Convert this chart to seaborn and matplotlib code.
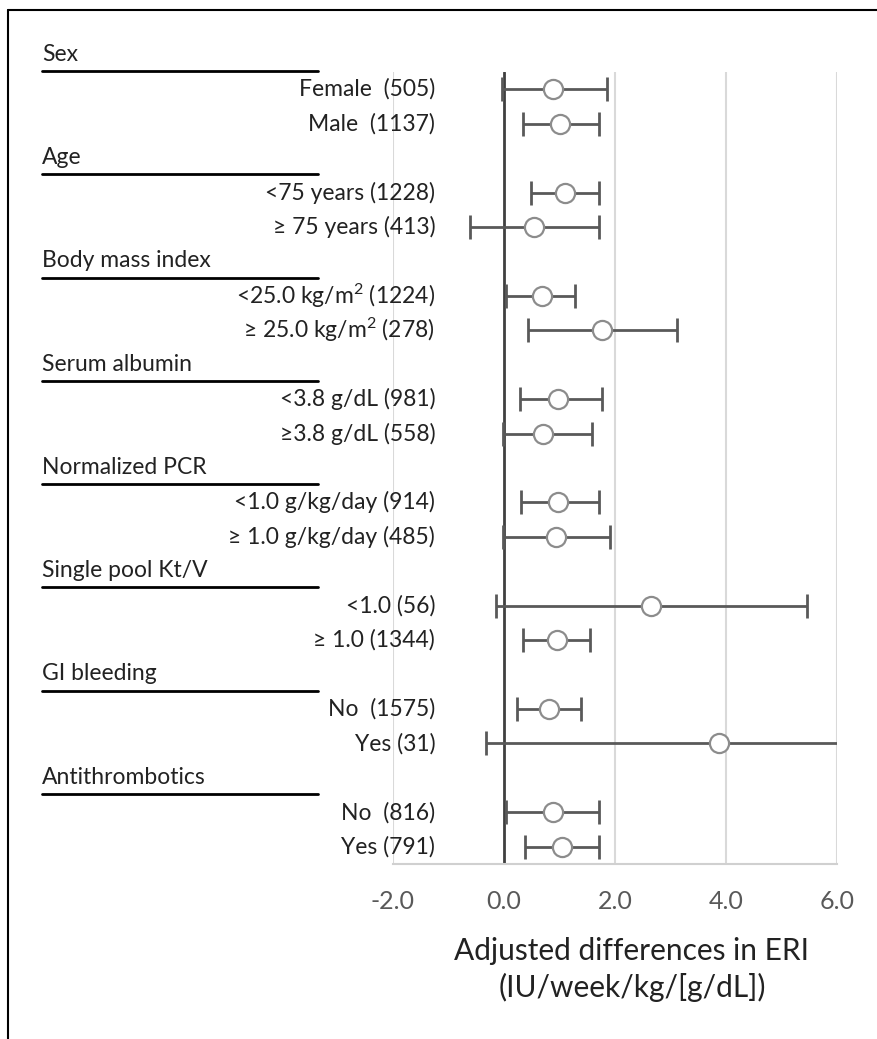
import numpy as np
import pandas as pd
import seaborn as sns
import matplotlib.pyplot as plt
import matplotlib.lines as mlines

# groups and subgroups (label, n)
groups = ["Sex", "Age", "Body mass index", "Serum albumin",
          "Normalized PCR", "Single pool Kt/V", "GI bleeding", "Antithrombotics"]
subgroups = [
    ["Female ", "Male "],
    ["<75 years", "\u2265 75 years"],
    ["<25.0 kg/m$^{2}$", "\u2265 25.0 kg/m$^{2}$"],
    ["<3.8 g/dL", "\u22653.8 g/dL"],
    ["<1.0 g/kg/day", "\u2265 1.0 g/kg/day"],
    ["<1.0", "\u2265 1.0"],
    ["No ", "Yes"],
    ["No ", "Yes"],
]
counts = [[505, 1137], [1228, 413], [1224, 278], [981, 558],
          [914, 485], [56, 1344], [1575, 31], [816, 791]]

# adjusted differences and 95% CI
estimate = [0.88, 1.01, 1.10, 0.54, 0.68, 1.77, 0.97, 0.70,
            0.97, 0.94, 2.64, 0.95, 0.81, 3.87, 0.88, 1.04]
lower = [-0.04, 0.35, 0.48, -0.62, 0.04, 0.44, 0.29, -0.02,
         0.31, -0.02, -0.15, 0.35, 0.24, -0.32, 0.04, 0.38]
upper = [1.85, 1.71, 1.71, 1.71, 1.28, 3.11, 1.76, 1.58,
         1.71, 1.91, 5.46, 1.55, 1.38, 6.60, 1.71, 1.71]

xticks = [-2, 0, 2, 4, 6]

# build row table
rows = []
header_rows = []
r = 0
k = 0
for g, subs, ns in zip(groups, subgroups, counts):
    header_rows.append((g, r))
    r += 1
    for s, n in zip(subs, ns):
        rows.append({"label": f"{s} ({n})", "row": r, "est": estimate[k],
                     "lo": lower[k], "hi": upper[k]})
        r += 1
        k += 1
df = pd.DataFrame(rows)

sns.set_style("white")
plt.rcParams['font.family'] = ['Lato', 'DejaVu Sans']
plt.rcParams['mathtext.fontset'] = 'custom'
plt.rcParams['mathtext.rm'] = 'Lato'
plt.rcParams['mathtext.it'] = 'Lato'
plt.rcParams['mathtext.default'] = 'regular'

fig = plt.figure(figsize=(8.77, 10.39), dpi=100)
ax = fig.add_axes([393 / 877, 1 - 864 / 1039, 444 / 877, 792 / 1039])

# gridlines
for t in xticks:
    if t == 0:
        ax.axvline(t, color="#404040", lw=2, zorder=1)
    else:
        ax.axvline(t, color="#d9d9d9", lw=1.5, zorder=0)

ax.errorbar(df["est"], df["row"],
            xerr=[df["est"] - df["lo"], df["hi"] - df["est"]],
            fmt="none", ecolor="#595959", elinewidth=2,
            capsize=8.5, capthick=2, zorder=2)
sns.scatterplot(data=df, x="est", y="row", ax=ax, s=190, marker="o",
                facecolor="white", edgecolor="#8c8c8c", linewidth=1.6,
                zorder=3, legend=False)

ax.set_xlim(-2, 6)
ax.set_ylim(r - 0.5, 0.5)
ax.set_xticks(xticks)
ax.set_xticklabels([f"{t:.1f}" for t in xticks])
ax.set_yticks([])
ax.set_ylabel("")
ax.tick_params(axis="x", length=0, pad=19, labelsize=18, labelcolor="#595959")
for sp in ["top", "left", "right"]:
    ax.spines[sp].set_visible(False)
ax.spines["bottom"].set_color("#d0d0d0")
ax.spines["bottom"].set_linewidth(1.5)

ax.set_xlabel("Adjusted differences in ERI\n(IU/week/kg/[g/dL])",
              fontsize=21.5, color="#222222", linespacing=1.35)
ax.xaxis.set_label_coords((632 - 393) / 444, -0.092)
ax.xaxis.label.set_verticalalignment("top")

trans = ax.get_yaxis_transform()
for _, row in df.iterrows():
    ax.text(0.095, row["row"], row["label"], transform=trans, ha="right",
            va="center", fontsize=16.5, color="#222222", clip_on=False)

x_head = (42 - 393) / 444
x_line_end = (318 - 393) / 444
for g, hr in header_rows:
    ax.text(x_head, hr - 0.02, g, transform=trans, ha="left", va="center",
            fontsize=16.5, color="#222222", clip_on=False)
    ax.plot([x_head, x_line_end], [hr + 0.47, hr + 0.47], transform=trans,
            color="black", lw=2, clip_on=False)

# outer frame (top and left only)
fig.add_artist(mlines.Line2D([8 / 877, 1], [1 - 10 / 1039, 1 - 10 / 1039],
                             color="black", lw=1.5))
fig.add_artist(mlines.Line2D([8 / 877, 8 / 877], [0, 1 - 10 / 1039],
                             color="black", lw=1.5))

fig.savefig("out.png", dpi=100, facecolor="white")
